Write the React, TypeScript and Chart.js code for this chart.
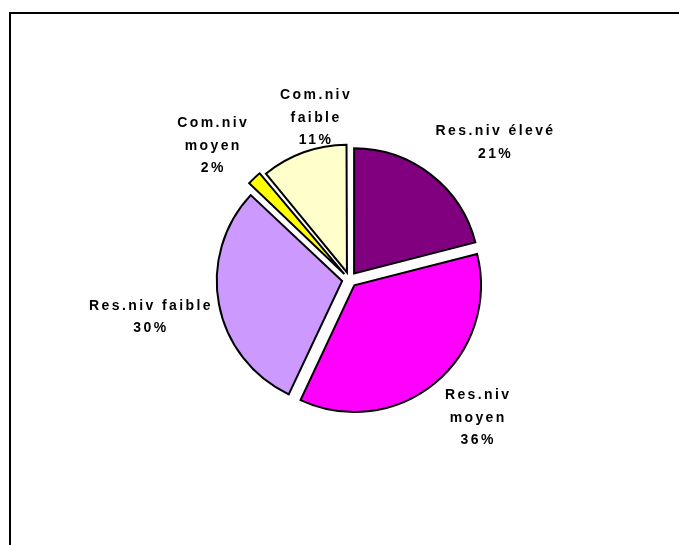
import React, { useEffect, useRef } from "react";
import { Chart, registerables } from "chart.js";

Chart.register(...registerables);

// ---- data ----
const categories = ["Res.niv élevé", "Res.niv moyen", "Res.niv faible", "Com.niv moyen", "Com.niv faible"];
const values = [21, 36, 30, 2, 11];
const labelNameLines = [["Res.niv élevé"], ["Res.niv", "moyen"], ["Res.niv faible"], ["Com.niv", "moyen"], ["Com.niv", "faible"]];
const colors = ["#800080", "#FF00FF", "#CC99FF", "#FFFF00", "#FFFFCC"];

// ---- label placement (style, relative to slice geometry) ----
const labelAngleShift = [8.8, -3.1, 0.1, -2.6, 7.7]; // degrees
const labelRadiusFactor = [1.595, 1.504, 1.626, 1.534, 1.321];
const LETTER_SPACING = 2.4;
const LINE_HEIGHT = 22.5;

const labelPlugin = {
  id: "pieLabels",
  afterDatasetsDraw(chart: any) {
    const ctx = chart.ctx as CanvasRenderingContext2D;
    const meta = chart.getDatasetMeta(0);
    const total = values.reduce((a, b) => a + b, 0);
    ctx.save();
    ctx.font = "bold 14px 'Liberation Sans', Arial, sans-serif";
    ctx.fillStyle = "#000";
    ctx.textBaseline = "middle";
    ctx.textAlign = "left";
    (ctx as any).letterSpacing = LETTER_SPACING + "px";
    meta.data.forEach((arc: any, i: number) => {
      const p = arc.getProps(["x", "y", "startAngle", "endAngle", "outerRadius"], true);
      const mid = (p.startAngle + p.endAngle) / 2 + (labelAngleShift[i] * Math.PI) / 180;
      const r = p.outerRadius * labelRadiusFactor[i];
      const cx = p.x + Math.cos(mid) * r;
      const cy = p.y + Math.sin(mid) * r;
      const lines = [...labelNameLines[i], Math.round((values[i] / total) * 100) + "%"];
      lines.forEach((line, j) => {
        const w = ctx.measureText(line).width - LETTER_SPACING;
        ctx.fillText(line, cx - w / 2, cy + (j - (lines.length - 1) / 2) * LINE_HEIGHT);
      });
    });
    ctx.restore();
  },
};

export default function App() {
  const ref = useRef<HTMLCanvasElement | null>(null);
  useEffect(() => {
    if (!ref.current) return;
    const chart = new Chart(ref.current, {
      type: "pie",
      data: {
        labels: categories,
        datasets: [
          {
            data: values,
            backgroundColor: colors,
            borderColor: "#000",
            borderWidth: 2,
            borderJoinStyle: "miter",
            offset: 30,
            radius: 125,
          } as any,
        ],
      },
      options: {
        responsive: false,
        animation: false,
        radius: 125,
        layout: { padding: { left: 20, top: 14, right: 0, bottom: 0 } },
        plugins: {
          legend: { display: false },
          tooltip: { enabled: false },
        },
      } as any,
      plugins: [labelPlugin],
    });
    return () => chart.destroy();
  }, []);

  return (
    <div
      style={{
        position: "fixed",
        left: 0,
        top: 0,
        width: 679,
        height: 545,
        overflow: "hidden",
        background: "#fff",
      }}
    >
      <div
        style={{
          position: "absolute",
          left: 9,
          top: 12,
          width: 1000,
          height: 1000,
          borderLeft: "2px solid #000",
          borderTop: "2px solid #000",
        }}
      />
      <canvas
        ref={ref}
        width={679}
        height={545}
        style={{ position: "absolute", left: 0, top: 0, width: 679, height: 545 }}
      />
    </div>
  );
}
